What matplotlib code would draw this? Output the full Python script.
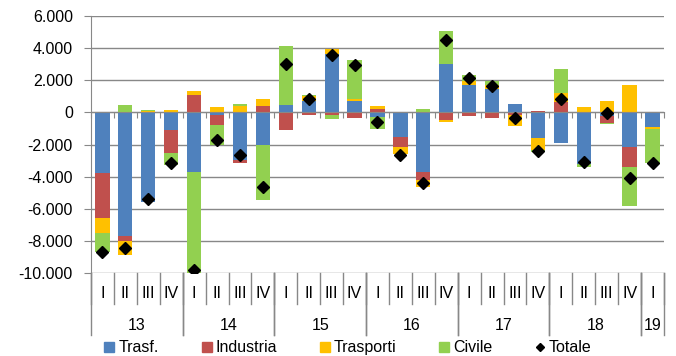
import numpy as np
import matplotlib.pyplot as plt
from matplotlib.lines import Line2D
from matplotlib.ticker import FuncFormatter

# Dati trimestrali (2013 Q1 - 2019 Q1)
quarters = ['I', 'II', 'III', 'IV'] * 6 + ['I']
years = ['13', '14', '15', '16', '17', '18', '19']
year_len = [4, 4, 4, 4, 4, 4, 1]

trasf = [-3750, -7710, -5550, -1070, -3690, -140, -2990, -2000, 480, 680, 3610, 720,
         -290, -1520, -3690, 3010, 1710, 1450, 520, -1590, -1890, -3240, -250, -2140, -930]
industria = [-2830, -290, 0, -1440, 1100, -620, -190, 370, -1070, -190, -190, -350,
             220, -620, -520, -450, -250, -350, -140, 50, 640, 0, -410, -1240, 0]
trasporti = [-930, -870, 60, 150, 240, 310, 370, 460, -30, 310, 310, 130,
             190, -480, -410, -170, 210, 260, -730, -760, 560, 310, 720, 1710, -100]
civile = [-1190, 430, 100, -780, -7450, -1240, 140, -3450, 3650, 60, -220, 2410,
          -740, 0, 230, 2070, 410, 210, 0, -130, 1500, -140, -80, -2440, -2150]
totale = [-8700, -8400, -5400, -3180, -9800, -1730, -2650, -4620, 3020, 850, 3530, 2950,
          -620, -2640, -4410, 4460, 2130, 1610, -350, -2420, 850, -3070, -40, -4080, -3180]

serie = [('Trasf.', trasf, '#4F81BD'),
         ('Industria', industria, '#C0504D'),
         ('Trasporti', trasporti, '#FFC000'),
         ('Civile', civile, '#92D050')]

FONT = 'Liberation Sans'
GRID = '#888888'


def main():
    plt.rcParams['font.family'] = [FONT, 'DejaVu Sans']
    fig = plt.figure(figsize=(6.76, 3.56), dpi=100)
    ax = fig.add_axes([0.1346, 0.2323, 0.8476, 0.7236])

    x = np.arange(len(quarters))
    pos = np.zeros(len(x))
    neg = np.zeros(len(x))
    handles = []
    for name, vals, col in serie:
        v = np.array(vals, dtype=float)
        bottom = np.where(v >= 0, pos, neg)
        ax.bar(x, v, bottom=bottom, width=0.62, color=col, zorder=2)
        pos += np.where(v >= 0, v, 0)
        neg += np.where(v < 0, v, 0)
        handles.append(Line2D([], [], marker='s', linestyle='none', color=col,
                              markersize=7.5, label=name))

    ax.plot(x, totale, linestyle='none', marker='D', color='black',
            markersize=6.5, zorder=4)
    handles.append(Line2D([], [], marker='D', linestyle='none', color='black',
                          markersize=4.5, label='Totale'))

    # assi
    ax.set_xlim(-0.5, len(x) - 0.5)
    ax.set_ylim(-10000, 6000)
    ax.set_yticks(np.arange(-10000, 6001, 2000))
    ax.yaxis.set_major_formatter(FuncFormatter(lambda v, p: f'{int(v):,}'.replace(',', '.')))
    ax.grid(True, axis='y', color=GRID, linewidth=1.0)
    ax.set_axisbelow(True)
    for s in ['top', 'right']:
        ax.spines[s].set_visible(False)
    ax.spines['left'].set_color(GRID)
    ax.spines['bottom'].set_color(GRID)
    ax.spines['bottom'].set_position(('data', 0))
    ax.spines['bottom'].set_zorder(3)
    ax.set_xticks(np.arange(len(x) + 1) - 0.5)
    ax.tick_params(axis='x', direction='out', length=4, color=GRID, labelbottom=False)
    ax.tick_params(axis='y', direction='out', length=5, color=GRID, labelsize=11.5, pad=8)

    # etichette categorie a due livelli
    trans = ax.get_xaxis_transform()
    for i, q in enumerate(quarters):
        ax.text(i, -0.0765, q, transform=trans, ha='center', va='center', fontsize=11.5)
    for b in np.arange(len(x) + 1) - 0.5:
        ax.add_line(Line2D([b, b], [0, -0.119], transform=trans, color=GRID,
                           linewidth=1.0, clip_on=False))
    start = 0
    for y, n in zip(years, year_len):
        ax.text(start + (n - 1) / 2, -0.2007, y, transform=trans, ha='center',
                va='center', fontsize=11.5)
        for b in [start - 0.5, start + n - 0.5]:
            ax.add_line(Line2D([b, b], [0, -0.2395], transform=trans, color=GRID,
                               linewidth=1.0, clip_on=False))
        start += n

    fig.legend(handles=handles, loc='center', bbox_to_anchor=(0.515, 0.0225), ncol=5,
               frameon=False, fontsize=11.5, handlelength=0.6, handletextpad=0.25,
               columnspacing=2.7, borderpad=0)

    fig.savefig('out.png', dpi=100)


if __name__ == "__main__":
    main()
